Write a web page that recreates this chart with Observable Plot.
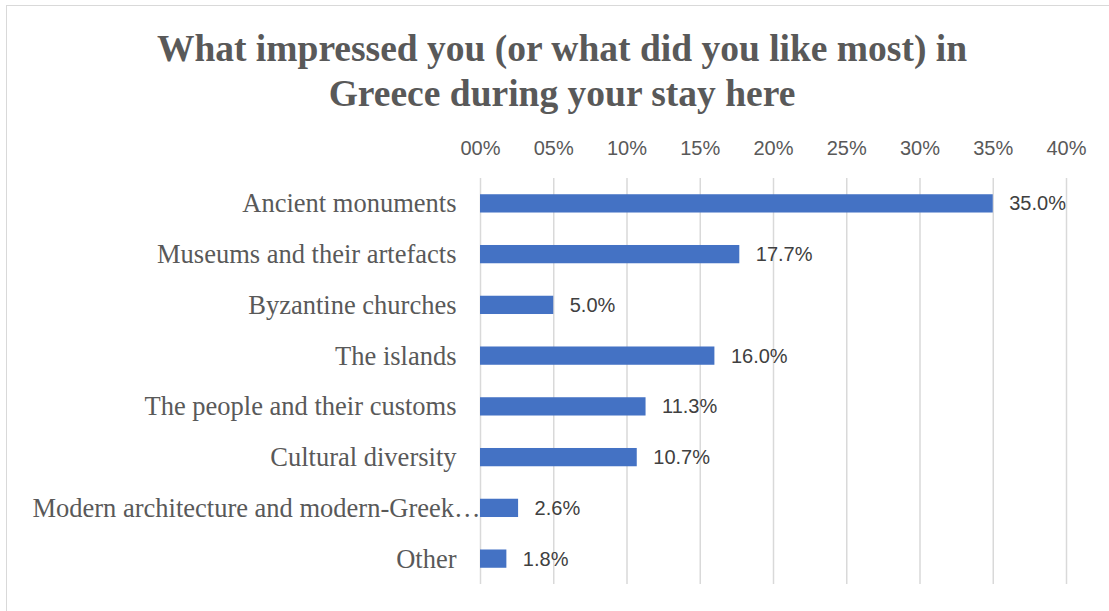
<!DOCTYPE html>
<html>
<head>
<meta charset="utf-8">
<script src="https://cdn.jsdelivr.net/npm/d3@7"></script>
<script src="https://cdn.jsdelivr.net/npm/@observablehq/plot@0.6"></script>
<style>
  html, body { margin: 0; padding: 0; background: #fff; overflow: hidden; }
  #frame {
    position: absolute; left: 6px; top: 5px; width: 1200px; height: 700px;
    border: 1px solid #d9d9d9; box-sizing: border-box;
  }
  #title {
    position: absolute; left: 6px; top: 26px; width: 1112px;
    text-align: center; font-family: "Liberation Serif", serif; font-weight: bold;
    font-size: 37.5px; line-height: 45px; color: #595959;
  }
  #chart { position: absolute; left: 0; top: 130px; }
</style>
</head>
<body>
<div id="frame"></div>
<div id="title">What impressed you (or what did you like most) in<br>Greece during your stay here</div>
<div id="chart"></div>
<script>
// Survey answers, share of respondents (%)
const categories = [
  "Ancient monuments",
  "Museums and their artefacts",
  "Byzantine churches",
  "The islands",
  "The people and their customs",
  "Cultural diversity",
  "Modern architecture and modern-Greek…",
  "Other"
];
const shares = [35.0, 17.7, 5.0, 16.0, 11.3, 10.7, 2.6, 1.8];
const xTicks = [0, 5, 10, 15, 20, 25, 30, 35, 40];

const data = categories.map((c, i) => ({category: c, share: shares[i]}));

// truncated labels run right up to the axis; the others keep a gap
const truncated = categories.filter(c => c.endsWith("…"));
const full = categories.filter(c => !c.endsWith("…"));
const yLabelStyle = {
  tickSize: 0, fontSize: 26.5, fontFamily: "Liberation Serif, serif",
  fill: "#595959", label: null
};

const chart = Plot.plot({
  width: 1109,
  height: 481,
  marginTop: 48,
  marginBottom: 27,
  marginLeft: 480,
  marginRight: 43,
  x: {domain: [0, 40]},
  y: {domain: categories, paddingInner: 0.64, paddingOuter: 0.32, round: false},
  style: {background: "transparent"},
  marks: [
    Plot.gridX(xTicks, {stroke: "#d9d9d9", strokeOpacity: 1, strokeWidth: 1.5}),
    Plot.axisX(xTicks, {
      anchor: "top", tickSize: 0, tickPadding: 24,
      tickFormat: d => String(d).padStart(2, "0") + "%",
      fontSize: 20, fontFamily: "Liberation Sans, sans-serif", fill: "#595959",
      label: null
    }),
    Plot.axisY(full, {...yLabelStyle, tickPadding: 24}),
    Plot.axisY(truncated, {...yLabelStyle, tickPadding: 0}),
    Plot.barX(data, {x: "share", y: "category", fill: "#4472c4"}),
    Plot.text(data, {
      x: "share", y: "category", text: d => d.share.toFixed(1) + "%",
      textAnchor: "start", dx: 16, fontSize: 20,
      fontFamily: "Liberation Sans, sans-serif", fill: "#404040"
    })
  ]
});
document.getElementById("chart").appendChild(chart);
</script>
</body>
</html>
